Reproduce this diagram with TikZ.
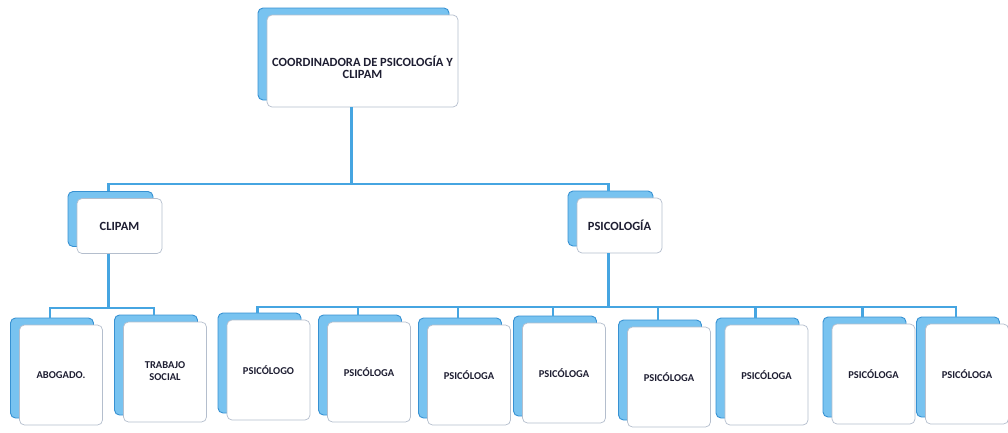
\documentclass[tikz,border=0pt]{standalone}
\usepackage{fontspec}
\setmainfont{Carlito}
\usetikzlibrary{calc,shadows}
\definecolor{azul}{RGB}{70,165,225}
\definecolor{azulfondo}{RGB}{120,195,240}
\definecolor{azulborde}{RGB}{55,145,210}
\definecolor{texto}{RGB}{30,30,50}
\definecolor{borde}{RGB}{180,190,205}
\newcommand{\rama}[3]{\draw[linea] ($(#1.south)+(-11,0)$) coordinate (p) -- (p |- 0,#3) -| ($(#2.north)+(-11,-7)$);}
\newcommand{\lineas}[1]{\begin{tabular}{@{}c@{}}#1\end{tabular}}

\begin{document}
\begin{tikzpicture}[x=1pt,y=-1pt,
	caja/.style={draw=borde,fill=white,rounded corners=5pt,line width=0.7pt,
		copy shadow={shadow xshift=-9pt,shadow yshift=7pt,fill=azulfondo,draw=azulborde,line width=0.9pt},
		text=texto,font=\bfseries\fontsize{10.5}{11.5}\selectfont,inner sep=2pt},
	jefe/.style={caja,font=\bfseries\fontsize{12.5}{12}\selectfont},
	hoja/.style={caja,minimum width=83pt,minimum height=100pt},
	linea/.style={azul,line width=2.2pt}]
			\useasboundingbox (0,0) rectangle (1008,432);
			\node[jefe,minimum width=191pt,minimum height=92pt](coord) at (362.5,61) {\raisebox{-11pt}[0pt][0pt]{\lineas{COORDINADORA DE PSICOLOGÍA Y\\CLIPAM}}};
			\node[jefe,minimum width=85pt,minimum height=55pt](clipam) at (119.5,226) {CLIPAM};
			\node[jefe,minimum width=85pt,minimum height=55pt](psico) at (619.5,225.5) {PSICOLOGÍA};
			\node[hoja](abogado) at (61,375) {ABOGADO.};
			\node[hoja](trabajo) at (165,372) {\lineas{TRABAJO\\SOCIAL}};
			\node[hoja](psicologo) at (268.5,370) {PSICÓLOGO};
			\node[hoja](psicologa1) at (369,372) {PSICÓLOGA};
			\node[hoja](psicologa2) at (469,375) {PSICÓLOGA};
			\node[hoja](psicologa3) at (564,373) {PSICÓLOGA};
			\node[hoja](psicologa4) at (669,377) {PSICÓLOGA};
			\node[hoja](psicologa5) at (766.5,375) {PSICÓLOGA};
			\node[hoja](psicologa6) at (873.5,374) {PSICÓLOGA};
			\node[hoja](psicologa7) at (967,374) {PSICÓLOGA};
			
			\rama{coord}{clipam}{184}
			\rama{coord}{psico}{184}
			\rama{clipam}{abogado}{308}
			\rama{clipam}{trabajo}{308}
			\rama{psico}{psicologo}{307}
			\rama{psico}{psicologa1}{307}
			\rama{psico}{psicologa2}{307}
			\rama{psico}{psicologa3}{307}
			\rama{psico}{psicologa4}{307}
			\rama{psico}{psicologa5}{307}
			\rama{psico}{psicologa6}{307}
			\rama{psico}{psicologa7}{307}
		\end{tikzpicture}
\end{document}
